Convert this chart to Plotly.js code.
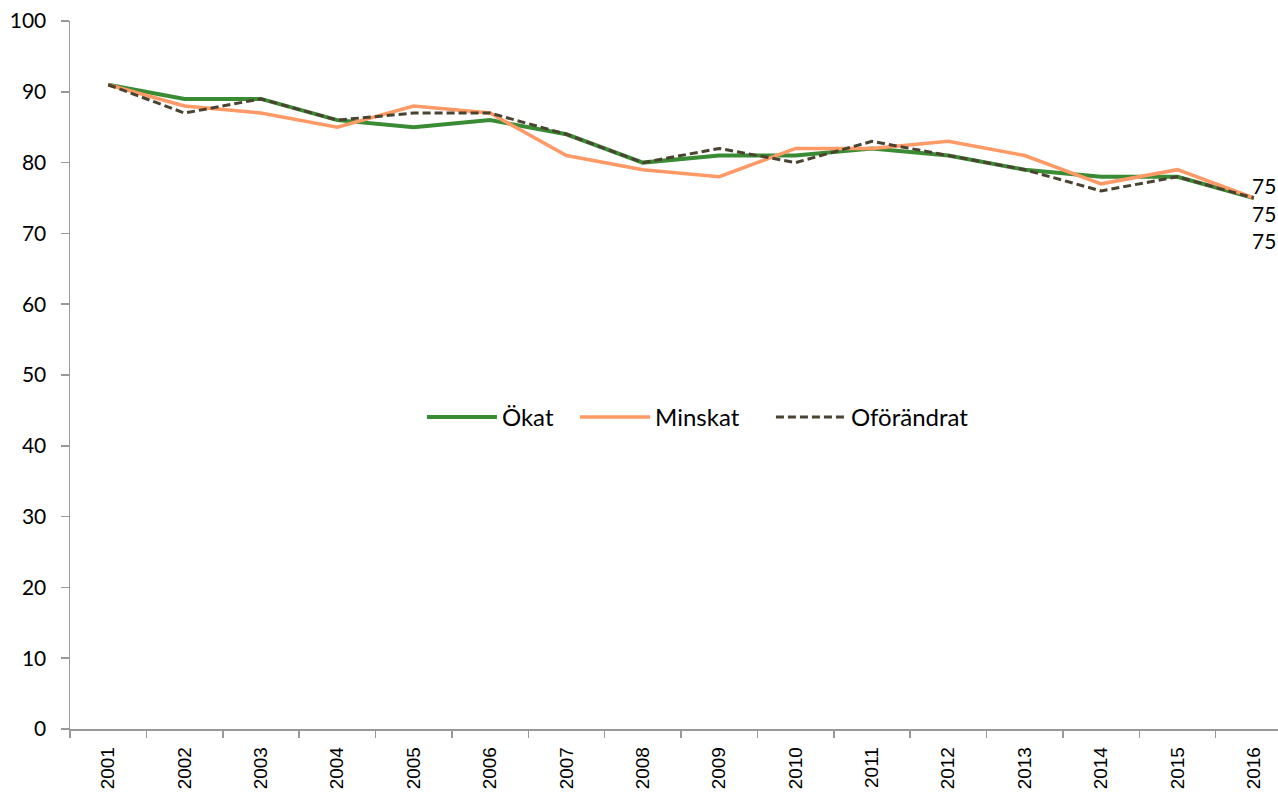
<!DOCTYPE html>
<html><head><meta charset="utf-8">
<script src="https://cdn.plot.ly/plotly-3.0.1.min.js"></script>
<style>html,body{margin:0;padding:0;overflow:hidden;background:#fff}
#wrap{width:1278px;height:793px;overflow:hidden;position:relative}</style>
</head><body>
<div id="wrap"><div id="chart" style="width:1300px;height:793px"></div></div>
<script>
const years = ["2001","2002","2003","2004","2005","2006","2007","2008","2009","2010","2011","2012","2013","2014","2015","2016"];
const okat = [91,89,89,86,85,86,84,80,81,81,82,81,79,78,78,75];
const minskat = [91,88,87,85,88,87,81,79,78,82,82,83,81,77,79,75];
const oforandrat = [91,87,89,86,87,87,84,80,82,80,83,81,79,76,78,75];
const seriesNames = ["Ökat","Minskat","Oförändrat"];
const endLabels = ["75","75","75"];

const series = [okat, minskat, oforandrat];
const traces = [
  {x: years, y: okat, name: seriesNames[0], type: "scatter", mode: "lines", legend: "legend",
   line: {color: "#3a8c34", width: 4}},
  {x: years, y: minskat, name: seriesNames[1], type: "scatter", mode: "lines", legend: "legend2",
   line: {color: "#ff9966", width: 3.5}},
  {x: years, y: oforandrat, name: seriesNames[2], type: "scatter", mode: "lines", legend: "legend3",
   line: {color: "#4a4330", width: 3, dash: "8px,4px"}}
];
const last = years.length - 1;
const yshifts = [13, -15, -42];
const annotations = endLabels.map((t, i) => ({
  x: last, y: series[i][last],
  xref: "x", yref: "y", text: t, showarrow: false, xanchor: "left",
  xshift: -4, yshift: yshifts[i],
  font: {family: "Lato, 'Open Sans', sans-serif", size: 21, color: "#000"}
}));
const legFont = {family: "Lato, 'Open Sans', sans-serif", size: 24, color: "#000"};
function leg(x) {
  return {orientation: "h", x: x, y: 0.44, xanchor: "left", yanchor: "middle",
    itemwidth: 70, font: legFont, bgcolor: "rgba(0,0,0,0)"};
}
const layout = {
  width: 1300, height: 793,
  margin: {l: 70, r: 8, t: 21, b: 64},
  paper_bgcolor: "#fff", plot_bgcolor: "#fff",
  showlegend: true,
  legend: leg(0.2880), legend2: leg(0.4133), legend3: leg(0.5736),
  xaxis: {type: "category", range: [-0.5, 15.5], showgrid: false, zeroline: false,
    showline: true, linecolor: "#999", linewidth: 1.5, ticks: "outside", tickson: "boundaries",
    ticklen: 7, tickcolor: "#999", tickwidth: 1.5, tickangle: -90,
    ticklabelposition: "outside", ticklabelstandoff: 9,
    tickfont: {family: "'Liberation Sans', Arial, sans-serif", size: 19, color: "#000"}},
  yaxis: {range: [0, 100], dtick: 10, showgrid: false, zeroline: false,
    showline: true, linecolor: "#999", linewidth: 1.5, ticks: "outside", ticklen: 8,
    tickcolor: "#999", tickwidth: 1.5, ticklabelposition: "outside", ticklabelstandoff: 10,
    tickfont: {family: "Lato, 'Open Sans', sans-serif", size: 21, color: "#000"}},
  annotations: annotations
};
Plotly.newPlot("chart", traces, layout, {displayModeBar: false, staticPlot: true});
</script>
</body></html>
